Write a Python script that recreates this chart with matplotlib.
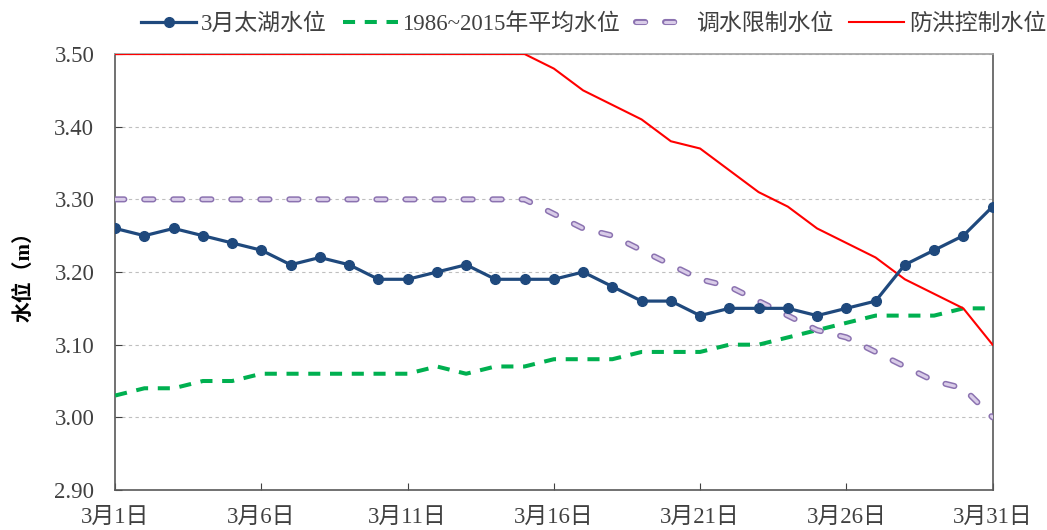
import matplotlib
matplotlib.use("Agg")
import matplotlib.pyplot as plt
import matplotlib.patheffects as pe

plt.rcParams['font.family'] = ['Liberation Serif', 'Noto Sans CJK SC']

days = list(range(1, 32))
taihu = [3.26, 3.25, 3.26, 3.25, 3.24, 3.23, 3.21, 3.22, 3.21, 3.19,
         3.19, 3.20, 3.21, 3.19, 3.19, 3.19, 3.20, 3.18, 3.16, 3.16,
         3.14, 3.15, 3.15, 3.15, 3.14, 3.15, 3.16, 3.21, 3.23, 3.25, 3.29]
avg = [3.03, 3.04, 3.04, 3.05, 3.05, 3.06, 3.06, 3.06, 3.06, 3.06,
       3.06, 3.07, 3.06, 3.07, 3.07, 3.08, 3.08, 3.08, 3.09, 3.09,
       3.09, 3.10, 3.10, 3.11, 3.12, 3.13, 3.14, 3.14, 3.14, 3.15, 3.15]
diversion = [3.30, 3.30, 3.30, 3.30, 3.30, 3.30, 3.30, 3.30, 3.30, 3.30,
             3.30, 3.30, 3.30, 3.30, 3.30, 3.28, 3.26, 3.25, 3.23, 3.21,
             3.19, 3.18, 3.16, 3.14, 3.12, 3.11, 3.09, 3.07, 3.05, 3.04, 3.00]
flood = [3.50, 3.50, 3.50, 3.50, 3.50, 3.50, 3.50, 3.50, 3.50, 3.50,
         3.50, 3.50, 3.50, 3.50, 3.50, 3.48, 3.45, 3.43, 3.41, 3.38,
         3.37, 3.34, 3.31, 3.29, 3.26, 3.24, 3.22, 3.19, 3.17, 3.15, 3.10]
tick_days = [1, 6, 11, 16, 21, 26, 31]
tick_labels = [f"3月{d}日" for d in tick_days]
series_names = ["3月太湖水位", "1986~2015年平均水位", "调水限制水位", "防洪控制水位"]

fig = plt.figure(figsize=(10.47, 5.30), dpi=100)
ax = fig.add_axes([0.110, 0.0755, 0.838, 0.8225])

# 平均水位
ax.plot(days, avg, color='#00B050', lw=2.9, ls=(0, (3.0, 2.4)),
        dash_capstyle='butt', label=series_names[1], zorder=3)
# 调水限制水位 (空心虚线)
ax.plot(days, diversion, color='#D9CCE8', lw=2.2, ls=(0, (3.0, 6.5)),
        solid_capstyle='round', dash_capstyle='round', label=series_names[2],
        path_effects=[pe.Stroke(linewidth=4.4, foreground='#8B72B0'), pe.Normal()],
        zorder=3)
# 防洪控制水位
ax.plot(days, flood, color='#FF0000', lw=1.5, label=series_names[3], zorder=4)
# 太湖水位
ax.plot(days, taihu, color='#1F497D', lw=2.3, marker='o', markersize=7,
        label=series_names[0], zorder=5)

ax.set_xlim(1, 31)
ax.set_ylim(2.90, 3.50)
ax.set_xticks(tick_days)
ax.set_xticklabels(tick_labels)
ax.set_yticks([2.9 + 0.1 * i for i in range(7)])
ax.set_yticklabels([f"{2.9 + 0.1 * i:.2f}" for i in range(7)])
ax.tick_params(axis='both', direction='in', labelsize=16.5, length=5, colors='#404040')
ax.tick_params(axis='x', pad=12)
ax.tick_params(axis='y', pad=15)
ax.yaxis.grid(True, ls=(0, (3, 3)), color='#BFBFBF', lw=0.8)
for s in ax.spines.values():
    s.set_color('#595959')
    s.set_linewidth(1.2)
ax.spines['top'].set_color('#A0A0A0')

ax.set_ylabel("水位（m）", fontsize=15, fontweight='bold', labelpad=14)

h, l = ax.get_legend_handles_labels()
order = [3, 0, 1, 2]
ax.legend([h[i] for i in order], [l[i] for i in order], loc='center right',
          bbox_to_anchor=(0.999, 0.955), bbox_transform=fig.transFigure,
          ncol=4, frameon=False, fontsize=16.5, borderaxespad=0, borderpad=0,
          handlelength=2.4, columnspacing=0.7, handletextpad=0.2,
          labelcolor='#404040')

fig.savefig("out.png", dpi=100)
